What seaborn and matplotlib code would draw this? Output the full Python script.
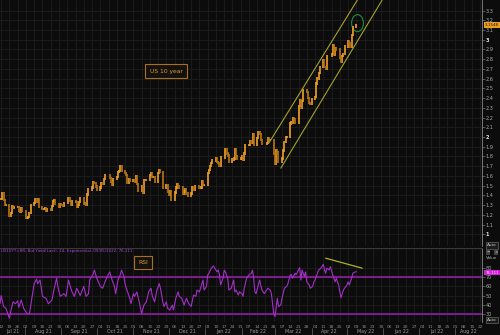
import numpy as np
import pandas as pd
import matplotlib
matplotlib.use("Agg")
import matplotlib.pyplot as plt
import matplotlib.transforms as mtransforms
import matplotlib.dates as mdates
from matplotlib.patches import Ellipse
import seaborn as sns

# ---------------- data ----------------
holidays = ["2021-09-06", "2021-10-11", "2021-11-11", "2021-11-25",
            "2021-12-24", "2022-01-17", "2022-02-21", "2022-04-15"]

close_jul21 = [1.36, 1.42, 1.35, 1.30, 1.30, 1.19, 1.22, 1.29, 1.27, 1.28,
               1.28, 1.24, 1.23, 1.27, 1.24]
close_aug21 = [1.17, 1.17, 1.18, 1.22, 1.30, 1.32, 1.36, 1.33, 1.36, 1.28,
               1.26, 1.26, 1.27, 1.24, 1.26, 1.25, 1.29, 1.34, 1.35, 1.31,
               1.28, 1.31]
close_sep21 = [1.30, 1.29, 1.32, 1.37, 1.34, 1.30, 1.34, 1.33, 1.28, 1.30,
               1.33, 1.37, 1.31, 1.32, 1.30, 1.41, 1.46, 1.48, 1.54, 1.53,
               1.49]
close_oct21 = [1.46, 1.48, 1.53, 1.52, 1.57, 1.61, 1.58, 1.54, 1.51, 1.57,
               1.59, 1.64, 1.65, 1.70, 1.65, 1.63, 1.61, 1.53, 1.57, 1.55]
close_nov21 = [1.56, 1.54, 1.60, 1.52, 1.45, 1.49, 1.43, 1.56, 1.56, 1.61,
               1.63, 1.59, 1.59, 1.54, 1.63, 1.66, 1.64, 1.48, 1.50, 1.44]
close_dec21 = [1.41, 1.44, 1.35, 1.43, 1.48, 1.52, 1.49, 1.48, 1.42, 1.44,
               1.46, 1.42, 1.40, 1.42, 1.48, 1.46, 1.49, 1.48, 1.48, 1.55,
               1.51, 1.51]
close_jan22 = [1.63, 1.66, 1.70, 1.73, 1.76, 1.78, 1.74, 1.73, 1.70, 1.79,
               1.87, 1.83, 1.81, 1.75, 1.77, 1.78, 1.87, 1.80, 1.78, 1.78]
close_feb22 = [1.80, 1.77, 1.83, 1.92, 1.92, 1.96, 1.94, 2.03, 1.92, 1.99,
               2.05, 2.03, 1.97, 1.93, 1.94, 1.99, 1.97, 1.97, 1.83]
close_mar22 = [1.72, 1.86, 1.84, 1.74, 1.78, 1.86, 1.95, 2.00, 2.00, 2.14,
               2.15, 2.19, 2.18, 2.15, 2.32, 2.38, 2.30, 2.37, 2.48, 2.46,
               2.40, 2.35, 2.34]
close_apr22 = [2.39, 2.41, 2.55, 2.60, 2.66, 2.72, 2.79, 2.72, 2.70, 2.83,
               2.85, 2.94, 2.84, 2.91, 2.90, 2.81, 2.77, 2.83, 2.85, 2.93]
close_may22 = [2.99, 2.96, 2.93, 3.05, 3.13, 3.15]

rsi_dates = [
    "2021-07-11", "2021-07-12", "2021-07-14", "2021-07-16", "2021-07-19", "2021-07-20",
    "2021-07-22", "2021-07-24", "2021-07-26", "2021-07-27", "2021-07-29", "2021-07-31",
    "2021-08-03", "2021-08-05", "2021-08-07", "2021-08-09", "2021-08-11", "2021-08-12",
    "2021-08-14", "2021-08-16", "2021-08-19", "2021-08-21", "2021-08-24", "2021-08-26",
    "2021-08-28", "2021-08-29", "2021-08-31", "2021-09-03", "2021-09-05", "2021-09-07",
    "2021-09-10", "2021-09-12", "2021-09-14", "2021-09-17", "2021-09-20", "2021-09-22",
    "2021-09-24", "2021-09-25", "2021-09-28", "2021-09-29", "2021-10-01", "2021-10-04",
    "2021-10-06", "2021-10-08", "2021-10-10", "2021-10-12", "2021-10-14", "2021-10-16",
    "2021-10-17", "2021-10-19", "2021-10-21", "2021-10-22", "2021-10-24", "2021-10-25",
    "2021-10-26", "2021-10-29", "2021-10-30", "2021-11-01", "2021-11-02", "2021-11-04",
    "2021-11-06", "2021-11-08", "2021-11-10", "2021-11-12", "2021-11-14", "2021-11-16",
    "2021-11-17", "2021-11-19", "2021-11-21", "2021-11-23", "2021-11-24", "2021-11-26",
    "2021-11-27", "2021-11-29", "2021-11-30", "2021-12-02", "2021-12-04", "2021-12-05",
    "2021-12-07", "2021-12-09", "2021-12-10", "2021-12-12", "2021-12-14", "2021-12-16",
    "2021-12-18", "2021-12-20", "2021-12-22", "2021-12-24", "2021-12-25", "2021-12-27",
    "2021-12-28", "2021-12-30", "2021-12-31", "2022-01-02", "2022-01-03", "2022-01-04",
    "2022-01-06", "2022-01-08", "2022-01-09", "2022-01-11", "2022-01-12", "2022-01-13",
    "2022-01-14", "2022-01-16", "2022-01-17", "2022-01-18", "2022-01-20", "2022-01-21",
    "2022-01-23", "2022-01-25", "2022-01-26", "2022-01-27", "2022-01-29", "2022-01-30",
    "2022-02-01", "2022-02-02", "2022-02-03", "2022-02-05", "2022-02-07", "2022-02-09",
    "2022-02-10", "2022-02-11", "2022-02-12", "2022-02-13", "2022-02-16", "2022-02-18",
    "2022-02-20", "2022-02-21", "2022-02-23", "2022-02-25", "2022-02-26", "2022-02-28",
    "2022-03-01", "2022-03-02", "2022-03-03", "2022-03-04", "2022-03-06", "2022-03-07",
    "2022-03-09", "2022-03-11", "2022-03-12", "2022-03-14", "2022-03-15", "2022-03-16",
    "2022-03-18", "2022-03-19", "2022-03-21", "2022-03-22", "2022-03-23", "2022-03-24",
    "2022-03-26", "2022-03-27", "2022-03-28", "2022-03-30", "2022-03-31", "2022-04-02",
    "2022-04-03", "2022-04-04", "2022-04-06", "2022-04-07", "2022-04-09", "2022-04-11",
    "2022-04-12", "2022-04-13", "2022-04-14", "2022-04-16", "2022-04-17", "2022-04-19",
    "2022-04-21", "2022-04-22", "2022-04-24", "2022-04-25", "2022-04-26", "2022-04-28",
    "2022-04-29", "2022-05-01", "2022-05-02", "2022-05-03", "2022-05-05", "2022-05-06",
    "2022-05-08", "2022-05-09",
]
rsi_values = [
    41, 50, 38, 36, 25, 32,
    43, 41, 44, 37, 45, 36,
    30, 30, 47, 63, 68, 63,
    67, 49, 47, 41, 45, 58,
    69, 60, 49, 52, 49, 67,
    54, 49, 58, 50, 60, 49,
    52, 67, 74, 78, 69, 60,
    58, 65, 71, 76, 67, 60,
    52, 67, 73, 78, 71, 63,
    58, 47, 41, 52, 49, 54,
    43, 30, 39.5, 43, 54, 58,
    50, 43, 56, 63, 58, 43,
    38, 43, 36, 34, 39.5, 34,
    47, 54, 49, 47, 39.5, 47,
    41, 38, 50.5, 49, 56, 54,
    58, 67, 56, 60, 72.6, 74.4,
    80, 82.5, 80, 76, 78, 72.6,
    61.6, 69, 78, 76, 69, 56,
    58, 67, 54, 56, 50.5, 54,
    52, 49, 58, 69, 72.6, 74.4,
    78, 69, 54, 52, 67, 56,
    52, 54, 58, 56, 52, 30,
    26.7, 36, 47, 38, 39.5, 47,
    58, 60, 63, 72.6, 73, 69,
    74.4, 73, 78, 80.6, 67, 78,
    71, 76, 65, 61.6, 58, 60,
    65, 67, 74.4, 78, 80, 84.3,
    78, 74.4, 80, 78, 81.7, 72.6,
    65, 69, 61.6, 54, 47.6, 56,
    58, 61.6, 65, 61.6, 69, 74.4,
    76, 76.1,
]

channel_upper_dates = ["2022-02-24", "2022-05-10"]
channel_upper_vals = [1.94, 3.41]
channel_lower_dates = ["2022-03-06", "2022-05-31"]
channel_lower_vals = [1.68, 3.41]
rsi_trend_dates = ["2022-04-13", "2022-05-14"]
rsi_trend_vals = [91, 80]
circle_date, circle_val = "2022-05-10", 3.17

price_ticks = [round(1.0 + 0.1 * i, 1) for i in range(24)]
rsi_ticks = [30, 40, 50, 60, 70, 80]
last_price_label = "3.1548"
last_rsi_label = "76.111"
rsi_legend = "US10YT=RR, Bid Yield(Last), 14, Exponential, 09/05/2022, 76.111"

# ---------------- styling ----------------
BG = "#0c0c0c"
GRID = "#1e1e1e"
UP = "#f0a028"
DOWN = "#b97514"
PURPLE = "#a42fc8"
BAND = "#9a1fb0"
OLIVE = "#a3a12c"
TXT = "#a8a8a8"

sns.set_theme(style="dark", rc={"axes.facecolor": BG, "figure.facecolor": BG,
                                "axes.edgecolor": BG, "grid.color": GRID})
plt.rcParams["font.family"] = ["DejaVu Sans"]

W, H = 500, 335
fig = plt.figure(figsize=(5, 3.35), dpi=100, facecolor=BG)
ax = fig.add_axes([0, 1 - 246 / H, 482 / W, 246 / H])
ax2 = fig.add_axes([0, 13 / H, 482 / W, (322 - 248) / H])

dates = pd.bdate_range("2021-07-12", "2022-05-09")
dates = dates[~dates.isin(pd.to_datetime(holidays))]
closes = (close_jul21 + close_aug21 + close_sep21 + close_oct21 + close_nov21 +
          close_dec21 + close_jan22 + close_feb22 + close_mar22 + close_apr22 +
          close_may22)
df = pd.DataFrame({"date": dates[:len(closes)], "close": closes})
df["open"] = df["close"].shift(1).fillna(df["close"])
lo = np.minimum(df["open"], df["close"]) - 0.012
hi = np.maximum(df["open"], df["close"]) + 0.012
up = df["close"] >= df["open"]

xmin, xmax = pd.Timestamp("2021-07-11"), pd.Timestamp("2022-08-23 12:00")
mondays = pd.date_range("2021-07-12", "2022-08-22", freq="W-MON")

for a in (ax, ax2):
    a.set_facecolor(BG)
    a.set_xlim(xmin, xmax)
    a.set_xticks(mondays)
    a.grid(True, color=GRID, lw=0.6)
    for s in ("left", "top", "bottom"):
        a.spines[s].set_visible(False)
    a.spines["right"].set_color("#8a8a8a")
    a.spines["right"].set_linewidth(0.6)
    a.yaxis.tick_right()
    a.tick_params(axis="y", colors="#8a8a8a", labelcolor=TXT, labelsize=3.6,
                  length=1.8, width=0.4, pad=1)

# candles
ax.vlines(df["date"][up], lo[up], hi[up], color=UP, lw=1.2)
ax.vlines(df["date"][~up], lo[~up], hi[~up], color=DOWN, lw=1.2)

ax.set_ylim(0.88, 3.408)
ax.set_yticks(price_ticks)
ax.set_yticklabels(["%g" % v for v in price_ticks])
for t, v in zip(ax.get_yticklabels(), price_ticks):
    if abs(v - round(v)) < 1e-9:
        t.set_color("#e8e8e8")
        t.set_fontweight("bold")
ax.tick_params(axis="x", length=0, labelbottom=False)

# channel lines and circle
ax.plot(pd.to_datetime(channel_upper_dates), channel_upper_vals, color=OLIVE, lw=0.8)
ax.plot(pd.to_datetime(channel_lower_dates), channel_lower_vals, color=OLIVE, lw=0.8)
cx = mdates.date2num(pd.Timestamp(circle_date))
ax.add_patch(Ellipse((cx, circle_val), width=10, height=0.175,
                     fill=False, ec="#1f8e3c", lw=0.8))

ax.text(166 / 482, 1 - 71 / 246, "US 10 year", transform=ax.transAxes,
        fontsize=4.3, color="#e39b2e", ha="center", va="center",
        bbox=dict(boxstyle="square,pad=0.7", fc="#141210", ec="#a8701e", lw=0.8))

# RSI panel
rsi_df = pd.DataFrame({"date": pd.to_datetime(rsi_dates), "rsi": rsi_values})
ax2.axhline(70, color=BAND, lw=1.1)
ax2.axhline(30, color=BAND, lw=1.1)
sns.lineplot(data=rsi_df, x="date", y="rsi", ax=ax2, color=PURPLE, lw=0.8,
             estimator=None, sort=False)
ax2.plot(pd.to_datetime(rsi_trend_dates), rsi_trend_vals, color="#b3b022", lw=0.9)
ax2.set_ylim(20.9, 102.2)
ax2.set_yticks(rsi_ticks)
ax2.set_yticklabels([str(v) for v in rsi_ticks])
ax2.set_xlabel("")
ax2.set_ylabel("")
ax.set_ylabel("")
ax2.set_xticklabels([d.strftime("%d") for d in mondays])
ax2.tick_params(axis="x", colors="#6a6a6a", labelcolor="#8c8c8c", labelsize=3.2,
                length=1.2, width=0.4, pad=0.6)
ax2.text(0.003, 0.955, rsi_legend, transform=ax2.transAxes, fontsize=2.9,
         color="#b145e0", ha="left", va="center")
ax2.text(143 / 482, (322 - 262.5) / 74, "RSI", transform=ax2.transAxes,
         fontsize=4.3, color="#e39b2e", ha="center", va="center",
         bbox=dict(boxstyle="square,pad=0.7", fc="#141210", ec="#a8701e", lw=0.8))

# month row
trans = mtransforms.blended_transform_factory(ax2.transData, ax2.transAxes)
months = pd.date_range("2021-07-01", "2022-08-01", freq="MS")
for m in months:
    start = max(m, xmin)
    end = min(m + pd.offsets.MonthBegin(1), xmax)
    mid = start + (end - start) / 2
    ax2.text(mid, -0.135, m.strftime("%b %y"), transform=trans, fontsize=3.4,
             color="#9a9a9a", ha="center", va="center", clip_on=False)
    if m > xmin:
        ax2.plot([m, m], [-0.085, -0.18], transform=trans, color="#6a6a6a",
                 lw=0.5, clip_on=False)

# right-hand widgets
fig.add_artist(plt.Line2D([0, 482 / W], [1 - 247.5 / H] * 2, color="#3a3a3a", lw=0.8))
fig.text(492 / W, 1 - 25 / H, last_price_label, fontsize=3, color="#111111",
         ha="center", va="center",
         bbox=dict(boxstyle="square,pad=0.3", fc="#f0a020", ec="none"))
fig.text(492 / W, 1 - 272.5 / H, last_rsi_label, fontsize=2.8, color="#ffe6ff",
         ha="center", va="center", zorder=10,
         bbox=dict(boxstyle="square,pad=0.2", fc="#d21fd8", ec="none"))
for yy in (245.5, 320):
    fig.text(492 / W, 1 - yy / H, "Auto", fontsize=3, color="#c8c8c8",
             ha="center", va="center",
             bbox=dict(boxstyle="square,pad=0.25", fc="#1c1c1c", ec="#777777", lw=0.4))
fig.text(492 / W, 1 - 258 / H, "Value", fontsize=3, color="#b0b0b0",
         ha="center", va="center")
fig.text(488 / W, 1 - 252 / H, "\u2212", fontsize=3, color="#dddddd", ha="center",
         va="center", bbox=dict(boxstyle="square,pad=0.15", fc="#444444", ec="none"))
fig.text(496 / W, 1 - 252 / H, "\u00d7", fontsize=3, color="#dddddd", ha="center",
         va="center", bbox=dict(boxstyle="square,pad=0.15", fc="#444444", ec="none"))

fig.savefig("out.png", dpi=100, facecolor=BG)
